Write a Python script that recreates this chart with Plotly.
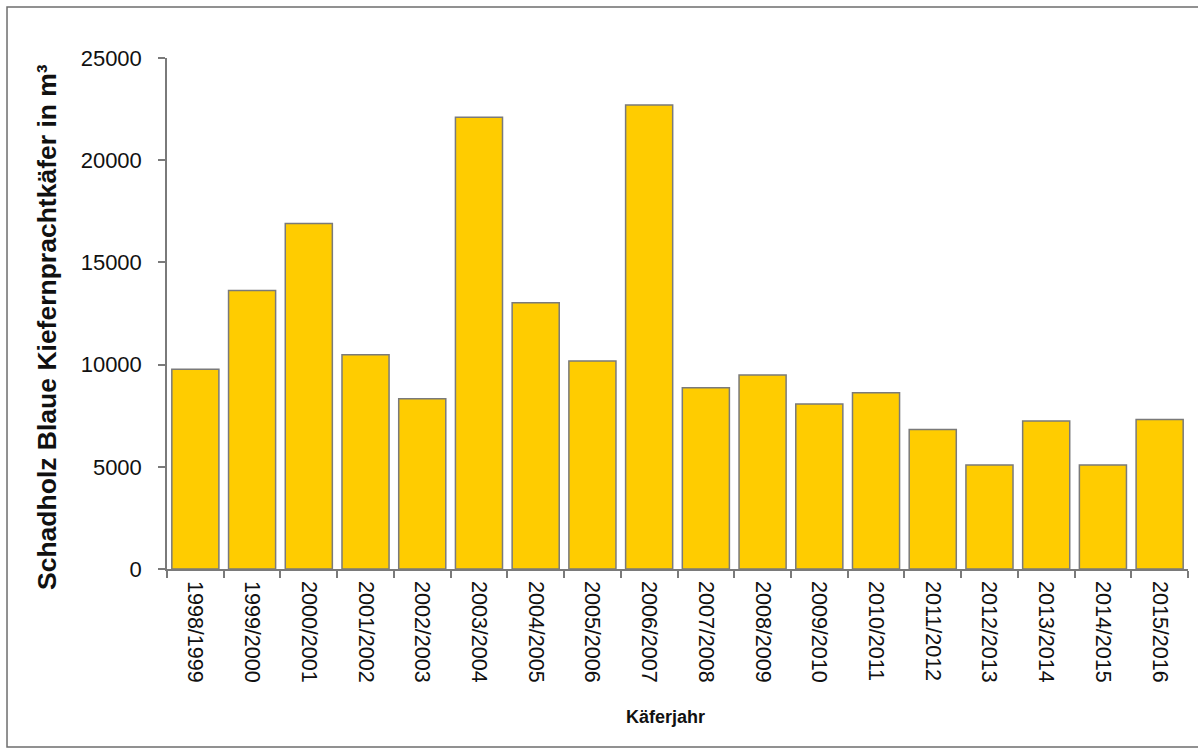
import plotly.graph_objects as go

# Käferjahre (beetle years) and damaged timber volume in m³
jahre = [
    "1998/1999", "1999/2000", "2000/2001", "2001/2002", "2002/2003",
    "2003/2004", "2004/2005", "2005/2006", "2006/2007", "2007/2008",
    "2008/2009", "2009/2010", "2010/2011", "2011/2012", "2012/2013",
    "2013/2014", "2014/2015", "2015/2016",
]
schadholz = [
    9770, 13630, 16900, 10480, 8330,
    22100, 13030, 10180, 22700, 8870,
    9490, 8070, 8620, 6830, 5090,
    7240, 5090, 7320,
]
y_ticks = [0, 5000, 10000, 15000, 20000, 25000]

FONT = "Liberation Sans, Arial, sans-serif"
GREY = "#7a7a7a"

fig = go.Figure(
    go.Bar(
        x=jahre,
        y=schadholz,
        marker=dict(color="#FFCC00", line=dict(color=GREY, width=1.5)),
        hoverinfo="x+y",
    )
)

fig.update_layout(
    width=1198,
    height=750,
    margin=dict(l=167, r=10, t=58, b=181),
    paper_bgcolor="white",
    plot_bgcolor="white",
    bargap=0.17,
    showlegend=False,
    font=dict(family=FONT, color="#111111"),
    xaxis=dict(
        type="category",
        tickangle=90,
        tickfont=dict(size=21.5, family=FONT, color="#111111"),
        showline=True,
        linecolor=GREY,
        linewidth=1.5,
        ticks="outside",
        tickson="boundaries",
        ticklen=7,
        tickcolor=GREY,
        tickwidth=1.5,
        showgrid=False,
        ticklabelstandoff=6,
    ),
    yaxis=dict(
        range=[0, 25000],
        tickvals=y_ticks,
        ticktext=[str(v) for v in y_ticks],
        tickfont=dict(size=22, family=FONT, color="#111111"),
        showline=True,
        linecolor=GREY,
        linewidth=1.5,
        ticks="outside",
        ticklen=7,
        tickcolor=GREY,
        tickwidth=1.5,
        showgrid=False,
        zeroline=False,
        ticklabelstandoff=12,
    ),
    annotations=[
        dict(
            text="<b>Schadholz Blaue Kiefernprachtkäfer in m³</b>",
            xref="paper", yref="paper",
            x=-0.1175, y=0.4736,
            xanchor="center", yanchor="middle",
            textangle=-90,
            showarrow=False,
            font=dict(size=26.5, family=FONT, color="#111111"),
        ),
        dict(
            text="<b>Käferjahr</b>",
            xref="paper", yref="paper",
            x=0.4878, y=-0.2896,
            xanchor="center", yanchor="middle",
            showarrow=False,
            font=dict(size=18, family=FONT, color="#111111"),
        ),
    ],
    shapes=[
        dict(
            type="rect",
            xref="paper", yref="paper",
            x0=-0.1567, x1=1.02,
            y0=-0.3483, y1=1.0998,
            line=dict(color="#6e6e6e", width=1.5),
            fillcolor="rgba(0,0,0,0)",
            layer="below",
        )
    ],
)

fig.write_html("out.html")
